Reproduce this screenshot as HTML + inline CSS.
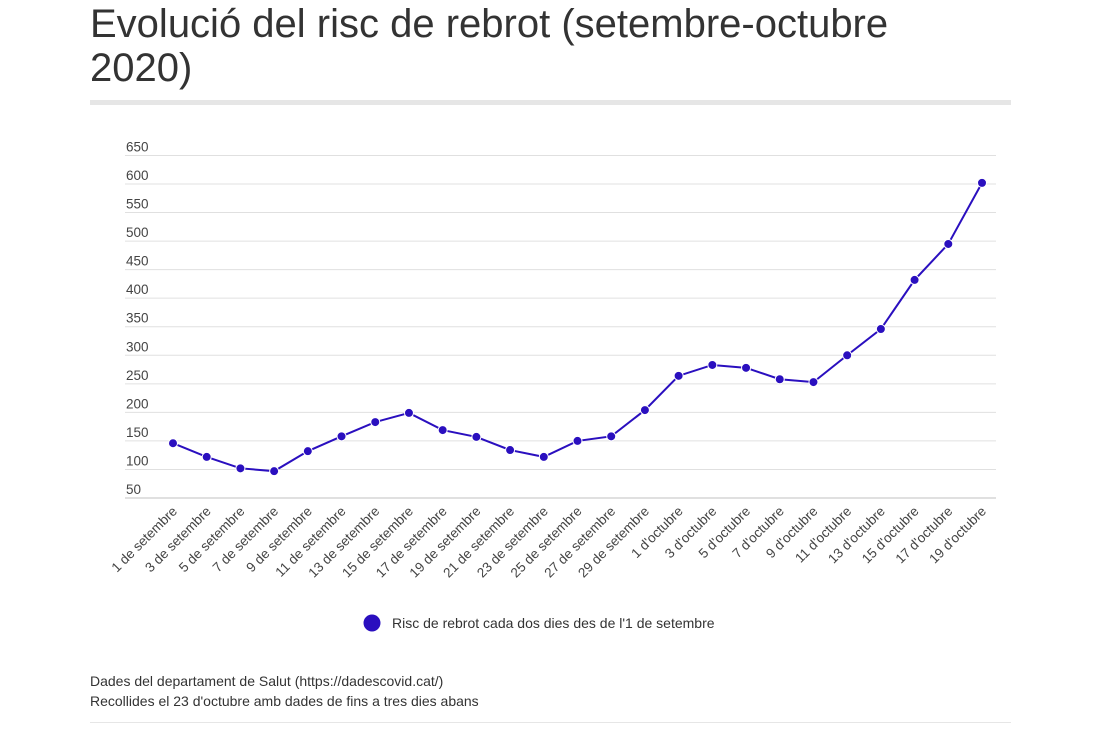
<!DOCTYPE html>
<html><head><meta charset="utf-8"><style>
body{margin:0;background:#fff;font-family:"Liberation Sans",sans-serif;}
#wrap{position:relative;width:1100px;height:733px;overflow:hidden}
h1{position:absolute;left:90px;top:2px;margin:0;font-weight:normal;font-size:40px;line-height:44px;color:#333;width:870px}
.rule{position:absolute;left:90px;width:921px;background:#e6e6e6}
.src{position:absolute;left:90px;font-size:14px;color:#333}
</style></head><body><div id="wrap">
<h1>Evolució del risc de rebrot (setembre-octubre 2020)</h1>
<div class="rule" style="top:100px;height:5px"></div>
<svg id="chart" width="1100" height="733" style="position:absolute;left:0;top:0"></svg>
<div class="src" style="top:673px">Dades del departament de Salut (https://dadescovid.cat/)</div>
<div class="src" style="top:693px">Recollides el 23 d'octubre amb dades de fins a tres dies abans</div>
<div class="rule" style="top:722px;height:1px"></div>
</div>
<script>
const categories=["1 de setembre","3 de setembre","5 de setembre","7 de setembre","9 de setembre","11 de setembre","13 de setembre","15 de setembre","17 de setembre","19 de setembre","21 de setembre","23 de setembre","25 de setembre","27 de setembre","29 de setembre","1 d'octubre","3 d'octubre","5 d'octubre","7 d'octubre","9 d'octubre","11 d'octubre","13 d'octubre","15 d'octubre","17 d'octubre","19 d'octubre"];
const values=[146,122,102,97,132,158,183,199,169,157,134,122,150,158,204,264,283,278,258,253,300,346,432,495,602];
const yTicks=[50,100,150,200,250,300,350,400,450,500,550,600,650];
const seriesName="Risc de rebrot cada dos dies des de l'1 de setembre";
const NS="http://www.w3.org/2000/svg";
const svg=document.getElementById('chart');
function y(v){return 498-(v-50)*0.5709;}
function x(i){return 173+i*(982-173)/(categories.length-1);}
function mk(t,a){const e=document.createElementNS(NS,t);for(const k in a)e.setAttribute(k,a[k]);svg.appendChild(e);return e;}
yTicks.forEach(v=>{
 const l=mk('line',{x1:125,x2:996,y1:y(v),y2:y(v),stroke:'#e0e0e0','stroke-width':v===50?2:1});
 
 
 const t=mk('text',{x:126,y:y(v)-4,'font-size':13.5,fill:'#444'});t.textContent=v;
 
 
});
categories.forEach((c,i)=>{
 const t=mk('text',{x:x(i)+5,y:512,'font-size':13.5,fill:'#444','text-anchor':'end',transform:`rotate(-45 ${x(i)+5} 512)`});t.textContent=c;
 
 
});
const p=mk('polyline',{points:values.map((v,i)=>x(i)+','+y(v)).join(' '),fill:'none',stroke:'#2a0fbf','stroke-width':2});


values.forEach((v,i)=>{
 const c=mk('circle',{cx:x(i),cy:y(v),r:4.5,fill:'#2a0fbf',stroke:'#fff','stroke-width':1});
 
 
});
const lc=mk('circle',{cx:372,cy:623,r:8.5,fill:'#2a0fbf'});


const lt=mk('text',{x:392,y:628,'font-size':14,fill:'#333'});lt.textContent=seriesName;


</script></body></html>
